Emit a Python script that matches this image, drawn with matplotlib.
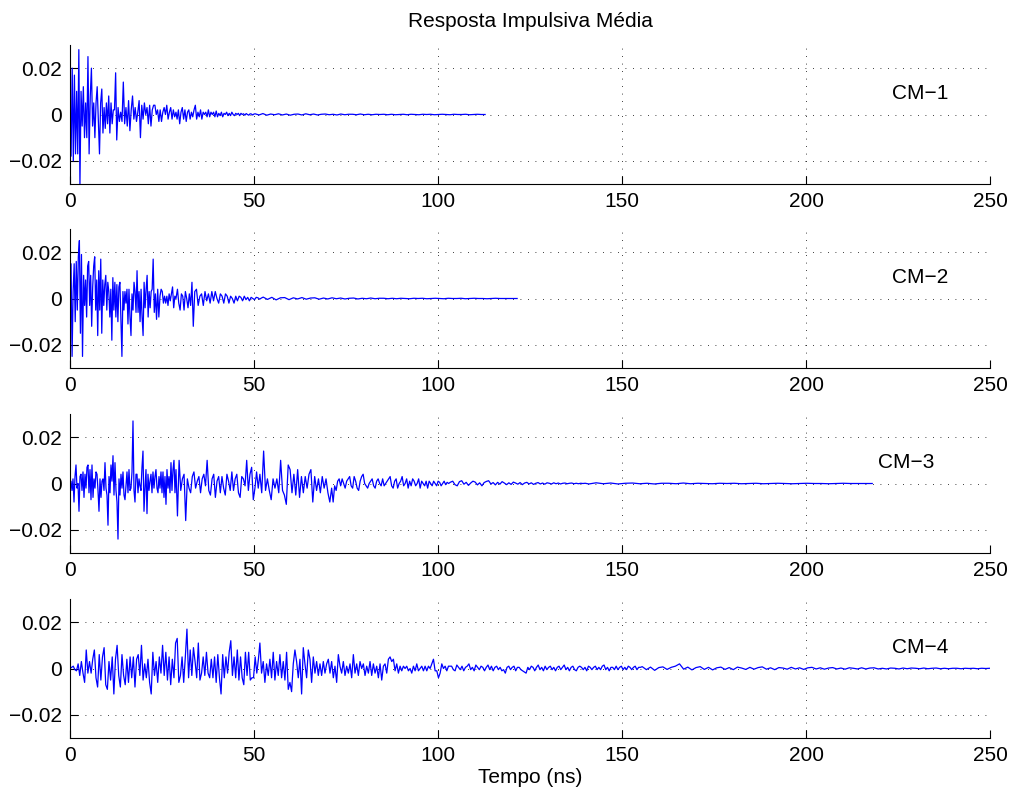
import matplotlib
matplotlib.use('Agg')
import matplotlib.pyplot as plt
import numpy as np

plt.rcParams['font.family'] = ['Liberation Sans', 'DejaVu Sans']

# ---- data (time in ns) ----
# each series is stored as segments: (t_start, t_end) + sample values
cm1_spans = [(0.0, 2.7), (3.0, 12.4), (12.7, 28.8), (29.1, 50.0), (50.3, 112.8)]
cm1_a = [0, -0.018, 0.020, -0.020, 0.017, -0.017, 0.010, -0.017, 0.028, -0.031]
cm1_b = [0.010, -0.005, 0.012, -0.010, 0.005, -0.010, 0.025, -0.017, 0.008, 0.020,
         -0.005, 0.005, -0.010, 0.005, 0.012, -0.003, -0.017, 0.005, 0.011, -0.008,
         0.003, -0.006, 0.005, -0.004, 0.008, -0.008, 0.005, -0.004, 0.002, 0.002, 0.018]
cm1_c = [-0.011, 0.003, -0.003, 0.001, -0.003, 0.014, -0.004, 0.003, -0.005, 0.006,
         -0.007, 0.002, 0.008, -0.002, 0.003, -0.003, 0.001, 0.006, -0.010, 0.004,
         -0.002, 0.005, 0.000, 0.003, -0.004, 0.004, -0.005, 0.002, 0.004, 0.004,
         0.000, 0.002, -0.003, 0.002, -0.003, 0.001, 0.003, 0.000, 0.004, -0.002,
         0.001, 0.003, -0.002, 0.002, -0.001, 0.001]
cm1_d = [-0.002, 0.002, -0.004, 0.001, 0.003, -0.002, 0.002, -0.003, 0.001, 0.002,
         -0.002, 0.001, -0.001, 0.002, 0.004, -0.002, 0.001, -0.001, 0.002, -0.002,
         0.001, 0.000, 0.001, -0.001, 0.002, -0.001, 0.001, 0.000, 0.001, -0.001,
         0.0015, -0.001, 0.0005, -0.0005, 0.001, -0.001, 0.0005, 0.000, 0.001, -0.0005,
         0.0005, -0.0005, 0.001, 0.000, -0.0005, 0.0005, 0.000, 0.0005, -0.0005, 0.0005,
         0.000, 0.0003, -0.0003, 0.0004, 0.000, -0.0003, 0.0003, 0.0002, -0.0002, 0.0002]
cm1_e = [0.0003, -0.0002, 0.0004, -0.0003, 0.0002, -0.0001, 0.0003, -0.0002, 0.0002, -0.0003,
         0.0001, 0.0002, -0.0002, 0.0003, -0.0001, 0.0002, -0.0002, 0.0001, 0.0002, -0.0001,
         0.0001, -0.0002, 0.0002, -0.0001, 0.0001, 0.0001, -0.0001, 0.0002, -0.0001, 0.0001,
         -0.0001, 0.0001, 0.0000, 0.0001, -0.0001, 0.0001, -0.0001, 0.0000, 0.0001, -0.0001,
         0.0001, 0.0000, -0.0001, 0.0001, 0.0000, 0.0001, -0.0001, 0.0000, 0.0001, 0.0000,
         -0.0001, 0.0001, 0.0000, 0.0000, 0.0001, -0.0001, 0.0000, 0.0001, 0.0000, 0.0000]

cm2_spans = [(0.0, 3.4), (3.7, 22.6), (22.9, 28.8), (29.2, 33.5), (33.9, 52.0), (52.5, 121.5)]
cm2_a = [0, 0.015, -0.025, 0.003, 0.015, -0.010, 0.016, -0.005, 0.018, 0.025, -0.015, 0.019, -0.025]
cm2_b = [0.010, -0.003, 0.008, -0.008, 0.014, 0.016, -0.003, 0.010, -0.012, 0.005,
         0.014, 0.018, -0.005, 0.008, -0.016, 0.012, -0.005, 0.017, -0.015, 0.008,
         -0.003, 0.006, 0.010, -0.005, 0.007, 0.003, -0.008, 0.004, -0.018, 0.009,
         -0.005, 0.007, -0.008, 0.006, -0.010, 0.005, 0.007, -0.009, -0.025, 0.003,
         -0.005, 0.003, -0.002, 0.004, -0.011, 0.004, -0.008, -0.016, 0.002, -0.005,
         0.007, 0.003, -0.006, 0.012, -0.006, 0.003, -0.010, 0.004, -0.008, -0.016,
         0.007, -0.004, 0.004, 0.010, -0.008, 0.003, -0.004, 0.003, 0.004, 0.017]
cm2_c = [-0.006, 0.002, -0.009, 0.004, -0.008, 0.001, 0.004, 0.003, -0.002, 0.001,
         -0.002, 0.001, -0.003, 0.002, -0.001, 0.002, 0.005, -0.004, 0.001, 0.000]
cm2_d = [0.004, -0.002, -0.005, 0.002, 0.001, -0.005, 0.003, 0.000, -0.004, 0.002,
         -0.003, 0.007, -0.012]
cm2_e = [0.003, 0.004, -0.003, 0.001, 0.002, -0.003, 0.003, -0.001, 0.002, -0.002,
         0.003, -0.001, 0.003, 0.000, -0.002, 0.002, 0.001, -0.002, 0.002, 0.001,
         -0.002, 0.001, 0.000, -0.002, 0.001, -0.001, 0.001, 0.0005, -0.001, 0.001,
         -0.0005, 0.0005, -0.001, 0.0005, 0.000, -0.0005, 0.0005, 0.0003, -0.0003, 0.0002]
cm2_f = [0.0006, -0.0004, 0.0005, -0.0006, 0.0003, 0.0004, -0.0005, 0.0003, -0.0002, 0.0004,
         -0.0003, 0.0002, 0.0003, -0.0003, 0.0002, -0.0002, 0.0003, -0.0001, 0.0002, -0.0002,
         0.0001, 0.0002, -0.0002, 0.0001, -0.0001, 0.0002, -0.0001, 0.0001, 0.0001, -0.0001,
         0.0001, -0.0001, 0.0001, 0.0000, -0.0001, 0.0001, 0.0000, 0.0001, -0.0001, 0.0000,
         0.0001, 0.0000, -0.0001, 0.0001, 0.0000, 0.0000, 0.0001, -0.0001, 0.0000, 0.0001,
         0.0000, 0.0000, -0.0001, 0.0000, 0.0001, 0.0000, 0.0000, 0.0000, 0.0000, 0.0000]

cm3_spans = [(0.0, 28.8), (29.2, 51.6), (52.1, 70.6), (71.1, 103.3), (104.0, 140.0), (141.0, 218.0)]
cm3_a = [0.000,
         0.001, -0.003, 0.002, -0.008, 0.003, 0.008, -0.002, 0.000, -0.012, 0.003,
         0.004, -0.003, 0.005, -0.006, 0.004, -0.002, 0.007, 0.008, -0.004, 0.006,
         -0.007, 0.008, -0.006, 0.002, -0.002, 0.005, 0.004, -0.003, -0.012, 0.002,
         -0.006, 0.001, 0.002, -0.003, 0.009, -0.002, -0.005, -0.018, 0.003, -0.004,
         0.008, 0.001, 0.012, -0.005, 0.009, -0.003, -0.008, -0.024, 0.002, -0.005,
         0.004, -0.002, 0.005, -0.005, -0.007, -0.001, 0.005, -0.004, 0.006, -0.003,
         -0.002, 0.005, 0.027, -0.003, -0.008, 0.004, 0.004, -0.004, 0.002, -0.001,
         -0.003, 0.007, 0.014, -0.012, -0.002, 0.006, -0.013, 0.004, -0.003, 0.001,
         0.004, -0.004, 0.005, -0.002, 0.003, 0.006, -0.002, -0.004, 0.003, -0.002,
         0.005, -0.004, 0.005, -0.006, 0.003, -0.009, 0.006, -0.002, 0.003, -0.004,
         0.009, -0.003, 0.006, 0.010, -0.004, 0.006]
cm3_b = [-0.014, 0.010, -0.003, 0.002, 0.004, -0.016, 0.002, -0.002, -0.004, 0.003,
         0.005, -0.002, 0.001, 0.003, -0.004, 0.002, 0.004, -0.001, 0.010, -0.003,
         -0.005, 0.002, 0.004, -0.006, 0.001, 0.003, -0.004, 0.003, -0.002, -0.005,
         0.004, 0.001, -0.003, 0.005, -0.003, 0.002, 0.004, -0.004, -0.006, 0.003,
         0.002, -0.001, 0.010, -0.003, 0.004, 0.007, -0.007, -0.002, 0.005, -0.002, 0.004]
cm3_c = [-0.004, 0.014, -0.003, 0.002, -0.003, -0.007, 0.002, -0.002, 0.002, -0.004,
         0.010, -0.003, -0.005, -0.009, 0.008, 0.006, -0.004, 0.004, -0.005, 0.006,
         -0.006, 0.003, -0.004, 0.003, -0.002, 0.004, 0.006, -0.008, 0.003, -0.003,
         0.002, -0.004, 0.003, -0.002, 0.002, -0.004, -0.008]
cm3_d = [-0.002, -0.008, -0.001, -0.003, 0.001, 0.002, -0.001, 0.002, 0.000, -0.002,
         0.001, 0.002, 0.003, -0.001, -0.002, 0.003, 0.001, -0.002, -0.003, 0.001,
         0.003, 0.004, 0.000, -0.001, -0.002, 0.000, 0.001, 0.002, -0.001, -0.002,
         0.001, 0.002, 0.000, -0.001, 0.002, -0.001, 0.000, 0.001, 0.002, 0.003,
         -0.001, -0.002, 0.001, 0.002, -0.002, 0.000, 0.001, 0.003, -0.001, 0.000,
         0.002, -0.002, 0.001, -0.001, 0.002, 0.001, -0.001, 0.000, 0.002, -0.002,
         0.001, 0.000, -0.001, 0.001, -0.002, 0.001, 0.000, -0.001, 0.001, 0.000,
         -0.001, 0.001, 0.0005, -0.001, 0.000, 0.001, -0.0005, 0.0005, 0.000, 0.0005]
cm3_e = [0.001, -0.0005, -0.001, 0.0008, 0.0012, -0.0003, 0.0005, -0.0008, 0.0002, 0.001,
         0.0006, -0.0006, 0.0003, -0.001, 0.0004, 0.0009, 0.0012, -0.0002, 0.0004, -0.0006,
         0.0005, -0.0003, 0.0008, 0.0002, -0.0005, 0.0003, -0.0004, 0.0006, 0.0002, -0.0003,
         0.0004, -0.0005, 0.0002, 0.0005, -0.0002, 0.0003, -0.0004, 0.0001, 0.0004, -0.0002,
         0.0002, -0.0003, 0.0003, 0.0001, -0.0002, 0.0003, -0.0001, 0.0002, -0.0002, 0.0001,
         0.0002, -0.0001, 0.0001, 0.0002, -0.0001, 0.0001, -0.0001, 0.0001, 0.0000, 0.0001]
cm3_f = [-0.0002, 0.0003, -0.0001, 0.0002, -0.0002, 0.0001, 0.0002, -0.0001, 0.0001, -0.0002,
         0.0001, 0.0001, -0.0001, 0.0002, -0.0001, 0.0001, 0.0000, -0.0001, 0.0001, 0.0000,
         0.0001, -0.0001, 0.0000, 0.0001, -0.0001, 0.0000, 0.0001, 0.0000, -0.0001, 0.0000,
         0.0001, 0.0000, 0.0000, -0.0001, 0.0000, 0.0001, 0.0000, 0.0000, 0.0000, 0.0000]

cm4_spans = [(0.0, 51.2), (51.6, 103.3), (103.7, 155.0), (155.5, 250.0)]
cm4_a = [0.000, 0.0005, 0.001, -0.0005, -0.001, 0.002, -0.003, 0.003, -0.002, -0.006,
         0.008, -0.002, 0.003, -0.002, 0.004, 0.008, -0.004, -0.008, 0.006, -0.005,
         0.005, 0.009, -0.007, -0.009, 0.003, -0.005, 0.005, -0.011, 0.004, 0.010,
         -0.003, -0.008, 0.006, -0.003, -0.007, 0.004, -0.006, 0.005, -0.004, 0.005,
         -0.008, 0.004, 0.006, -0.003, 0.010, -0.005, 0.002, -0.004, 0.004, -0.006,
         -0.011, 0.007, -0.003, 0.003, -0.006, 0.005, -0.002, 0.010, -0.003, 0.007,
         -0.005, 0.005, -0.007, 0.004, -0.004, 0.011, 0.013, -0.006, -0.003, 0.005,
         -0.006, 0.005, 0.017, -0.004, 0.008, -0.003, 0.009, 0.003, -0.004, 0.011,
         -0.005, -0.002, 0.005, -0.003, 0.007, -0.002, -0.004, 0.004, -0.004, 0.005,
         -0.006, 0.006, -0.004, -0.011, 0.006, -0.004, 0.005, -0.002, 0.007, 0.012,
         -0.003, 0.005, -0.004, 0.008, -0.005, 0.005, -0.004, -0.007, 0.007, -0.003,
         0.007, -0.005, -0.004, -0.004, 0.005, -0.002, 0.004]
cm4_b = [0.011, -0.002, 0.003, -0.006, 0.002, -0.003, 0.004, -0.004, 0.007, -0.005,
         0.003, -0.003, 0.006, -0.004, 0.003, -0.005, 0.007, -0.009, -0.006, -0.010,
         0.002, 0.008, 0.003, -0.004, 0.004, -0.011, 0.009, 0.002, -0.004, 0.008,
         0.004, -0.006, 0.005, -0.002, 0.003, -0.003, 0.002, -0.003, 0.003, -0.002,
         0.002, 0.004, -0.002, 0.003, -0.004, 0.001, -0.006, 0.006, 0.001, -0.002,
         0.003, -0.003, 0.001, -0.002, 0.002, -0.004, 0.006, -0.002, 0.002, -0.003,
         0.003, 0.000, 0.002, -0.003, 0.001, -0.002, 0.003, -0.003, 0.002, -0.002,
         0.001, -0.004, 0.002, -0.005, 0.001, 0.002, -0.002, 0.004, 0.005, 0.003,
         0.004, -0.001, 0.002, -0.002, 0.001, -0.001, 0.001, 0.000, 0.001, -0.001,
         0.000, -0.002, 0.001, -0.001, 0.002, -0.001, 0.000, 0.001, -0.001, 0.001,
         -0.001, 0.001, 0.000, 0.002, 0.004, -0.001, -0.001, -0.004, -0.002, 0.002,
         0.000, 0.001, -0.001, 0.001, 0.001]
cm4_c = [0.001, -0.0005, -0.001, 0.0015, 0.0005, -0.0005, 0.001, -0.001, 0.0005, 0.001,
         0.002, -0.0005, 0.0005, -0.001, 0.0015, 0.0005, -0.0005, 0.001, 0.0005, -0.001,
         0.0005, 0.0015, -0.0005, 0.001, -0.001, 0.0005, 0.001, -0.0005, 0.0005, -0.001,
         -0.0005, -0.002, 0.0005, 0.001, -0.0005, 0.0005, 0.001, -0.001, 0.0005, 0.0005,
         -0.0005, -0.001, -0.0015, -0.002, 0.0005, -0.0005, 0.001, 0.0005, -0.001, 0.0005,
         0.0015, -0.0005, 0.0005, -0.001, 0.001, -0.0005, 0.0005, 0.001, -0.0005, 0.0005,
         -0.001, 0.0005, 0.001, -0.0005, 0.0005, 0.0015, -0.0005, 0.0005, -0.001, 0.0005,
         0.001, -0.0005, -0.001, 0.0005, 0.001, 0.0005, -0.0005, 0.0005, -0.001, 0.001,
         0.0005, -0.0005, 0.0005, 0.001, -0.0005, 0.0005, -0.0005, 0.001, 0.0015, -0.0005,
         0.0005, -0.001, 0.0005, 0.0005, -0.0005, 0.001, -0.0005, 0.0005, 0.001, -0.0005,
         0.0005, -0.0005, 0.001, 0.0005, -0.0005, 0.0005, 0.001, -0.0005, 0.0005, 0.0005]
cm4_d = [0.0008, -0.0005, 0.0006, -0.0008, 0.0004, 0.0007, -0.0004, 0.0005, 0.001, 0.002,
         -0.0003, 0.0006, -0.0006, 0.0004, 0.0008, -0.0004, 0.0005, -0.0006, 0.0003, 0.0006,
         -0.0004, 0.0004, -0.0005, 0.0006, 0.0002, -0.0004, 0.0005, -0.0003, 0.0004, 0.0007,
         -0.0003, 0.0003, -0.0005, 0.0004, 0.0002, -0.0003, 0.0005, -0.0002, 0.0003, -0.0004,
         0.0003, 0.0005, -0.0002, 0.0003, -0.0003, 0.0002, 0.0004, -0.0002, 0.0002, -0.0003,
         0.0003, 0.0001, -0.0002, 0.0003, -0.0002, 0.0002, 0.0003, -0.0002, 0.0001, -0.0002,
         0.0002, 0.0001, -0.0002, 0.0002, -0.0001, 0.0002, 0.0001, -0.0001, 0.0002, -0.0001,
         0.0001, 0.0002, -0.0001, 0.0001, -0.0001, 0.0001, 0.0001, -0.0001, 0.0001, 0.0000,
         0.0001, -0.0001, 0.0001, 0.0000, 0.0001]

labels = ['CM\u22121', 'CM\u22122', 'CM\u22123', 'CM\u22124']
label_x = [223.5, 223.5, 219.5, 223.5]
label_y = [0.009, 0.009, 0.009, 0.009]
x_ticks = [0, 50, 100, 150, 200, 250]
y_ticks = [-0.02, 0, 0.02]
y_tick_labels = ['\u22120.02', '0', '0.02']

panels = [
    (cm1_spans, [cm1_a, cm1_b, cm1_c, cm1_d, cm1_e]),
    (cm2_spans, [cm2_a, cm2_b, cm2_c, cm2_d, cm2_e, cm2_f]),
    (cm3_spans, [cm3_a, cm3_b, cm3_c, cm3_d, cm3_e, cm3_f]),
    (cm4_spans, [cm4_a, cm4_b, cm4_c, cm4_d]),
]


def build(spans, segs):
    # join the segments into one time/value series
    t = np.concatenate([np.linspace(a, b, len(s)) for (a, b), s in zip(spans, segs)])
    v = np.concatenate([np.array(s, dtype=float) for s in segs])
    return t, v


fig = plt.figure(figsize=(10.13, 7.98), dpi=100)
left, width, height = 70 / 1013, 920 / 1013, 139 / 798
bottoms = [1 - 184 / 798, 1 - 368 / 798, 1 - 553 / 798, 1 - 738 / 798]

for i, (spans, segs) in enumerate(panels):
    ax = fig.add_axes([left, bottoms[i], width, height])
    t, v = build(spans, segs)
    ax.plot(t, v, color='#0000ff', linewidth=0.9)
    ax.set_xlim(0, 250)
    ax.set_ylim(-0.03, 0.03)
    ax.set_xticks(x_ticks)
    ax.set_yticks(y_ticks)
    ax.set_yticklabels(y_tick_labels)
    ax.tick_params(direction='in', length=6, width=0.8, labelsize=15, pad=6)
    ax.spines['top'].set_visible(False)
    ax.spines['right'].set_visible(False)
    for s in ('left', 'bottom'):
        ax.spines[s].set_linewidth(0.8)
    ax.grid(True, color='black', linestyle=(0, (1, 8)), linewidth=0.6)
    ax.text(label_x[i], label_y[i], labels[i], fontsize=15, ha='left', va='center')
    if i == 0:
        ax.set_title('Resposta Impulsiva Média', fontsize=15, pad=13)
    if i == 3:
        ax.set_xlabel('Tempo (ns)', fontsize=15, labelpad=2)

fig.savefig('out.png', dpi=100)
